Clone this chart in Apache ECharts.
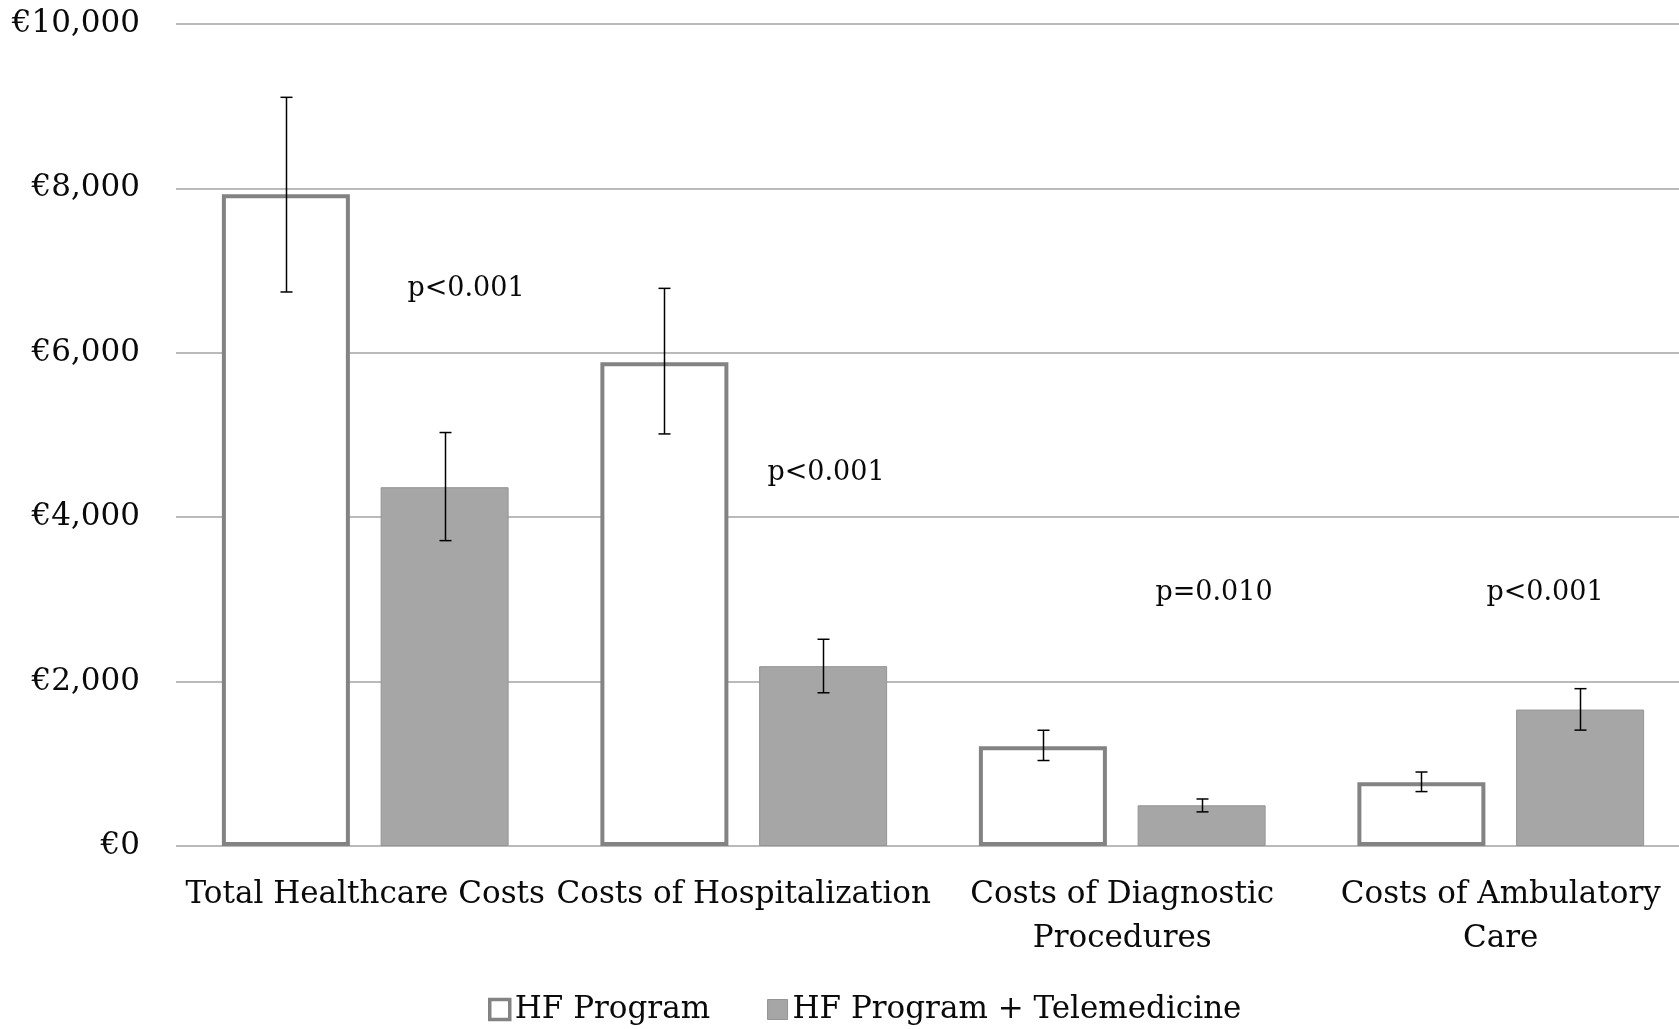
<!DOCTYPE html>
<html>
<head>
<meta charset="utf-8">
<script src="https://cdn.jsdelivr.net/npm/echarts@6/dist/echarts.min.js"></script>
<style>
html, body { margin: 0; padding: 0; background: #ffffff; overflow: hidden; }
#chart { width: 1690px; height: 1029px; }
</style>
</head>
<body>
<div id="chart"></div>
<script>
// Mean costs per patient with confidence intervals
const categories = [
  'Total Healthcare Costs',
  'Costs of Hospitalization',
  'Costs of Diagnostic\nProcedures',
  'Costs of Ambulatory\nCare'
];
const seriesNames = ['HF Program', 'HF Program + Telemedicine'];

const hfProgram     = [7930, 5885, 1215, 775];
const hfProgramLow  = [6740, 5013, 1040, 662];
const hfProgramHigh = [9108, 6784, 1408, 900];

const hfTele     = [4365, 2188, 495, 1660];
const hfTeleLow  = [3715, 1864, 415, 1410];
const hfTeleHigh = [5030, 2515, 572, 1914];

const pValues = ['p<0.001', 'p<0.001', 'p=0.010', 'p<0.001'];

const yMin = 0, yMax = 10000, yStep = 2000;

// Layout / styling
const FONT = "'DejaVu Serif', serif";
const TEXT_COLOR = '#0a0a0a';
const BAR_WIDTH = 128;
const BAR_GAP = 0.24;
const HALF_PAIR = BAR_WIDTH * (1 + BAR_GAP) / 2;
const pLabelPos = [[466, 289], [826, 473], [1214, 593], [1545, 593]];

const errorData = [];
categories.forEach(function (c, i) {
  errorData.push([i, hfProgramLow[i], hfProgramHigh[i], -1]);
  errorData.push([i, hfTeleLow[i], hfTeleHigh[i], 1]);
});

function renderError(params, api) {
  const idx = api.value(0);
  const side = api.value(3);
  const lo = api.coord([idx, api.value(1)]);
  const hi = api.coord([idx, api.value(2)]);
  const x = Math.round(lo[0] + side * HALF_PAIR) + 0.5;
  const cap = 6;
  const style = { stroke: '#000000', lineWidth: 1.5 };
  return {
    type: 'group',
    children: [
      { type: 'line', shape: { x1: x, y1: hi[1], x2: x, y2: lo[1] }, style: style },
      { type: 'line', shape: { x1: x - cap, y1: hi[1], x2: x + cap, y2: hi[1] }, style: style },
      { type: 'line', shape: { x1: x - cap, y1: lo[1], x2: x + cap, y2: lo[1] }, style: style }
    ]
  };
}

const chart = echarts.init(document.getElementById('chart'), null, { renderer: 'canvas' });

chart.setOption({
  backgroundColor: '#ffffff',
  animation: false,
  textStyle: { fontFamily: FONT },
  grid: { left: 176, top: 24, right: 0, bottom: 183, containLabel: false },
  legend: {
    data: [
      { name: seriesNames[0], itemStyle: { borderWidth: 3.5, borderColor: '#838383', color: '#ffffff' } },
      { name: seriesNames[1], itemStyle: { borderWidth: 1, borderColor: '#959595', color: '#a6a6a6' } }
    ],
    left: 483,
    top: 989,
    itemWidth: 20,
    itemHeight: 20,
    itemGap: 57,
    icon: 'rect',
    textStyle: { fontFamily: FONT, fontSize: 31, color: TEXT_COLOR }
  },
  xAxis: {
    type: 'category',
    data: categories,
    axisLine: { show: false },
    axisTick: { show: false },
    splitLine: { show: false },
    axisLabel: {
      interval: 0,
      margin: 27,
      fontFamily: FONT,
      fontSize: 31,
      lineHeight: 44,
      color: TEXT_COLOR
    }
  },
  yAxis: {
    type: 'value',
    min: yMin,
    max: yMax,
    interval: yStep,
    axisLine: { show: false },
    axisTick: { show: false },
    splitLine: { show: true, lineStyle: { color: '#a3a3a3', width: 1.5 } },
    axisLabel: {
      margin: 36,
      fontFamily: FONT,
      fontSize: 31,
      color: TEXT_COLOR,
      formatter: function (v) { return '€' + v.toLocaleString('en-US'); }
    }
  },
  series: [
    {
      name: seriesNames[0],
      type: 'bar',
      data: hfProgram,
      barWidth: BAR_WIDTH,
      barGap: (BAR_GAP * 100) + '%',
      itemStyle: { color: '#ffffff', borderColor: '#838383', borderWidth: 4 },
      z: 2
    },
    {
      name: seriesNames[1],
      type: 'bar',
      data: hfTele,
      barWidth: BAR_WIDTH,
      barGap: (BAR_GAP * 100) + '%',
      itemStyle: { color: '#a6a6a6', borderColor: '#959595', borderWidth: 1 },
      z: 2
    },
    {
      name: 'error',
      type: 'custom',
      data: errorData,
      renderItem: renderError,
      encode: { x: 0, y: [1, 2] },
      silent: true,
      z: 5
    }
  ],
  graphic: pValues.map(function (t, i) {
    return {
      type: 'text',
      x: pLabelPos[i][0],
      y: pLabelPos[i][1],
      style: {
        text: t,
        font: '27px ' + FONT,
        fill: TEXT_COLOR,
        align: 'center',
        verticalAlign: 'middle'
      }
    };
  })
});
</script>
</body>
</html>
